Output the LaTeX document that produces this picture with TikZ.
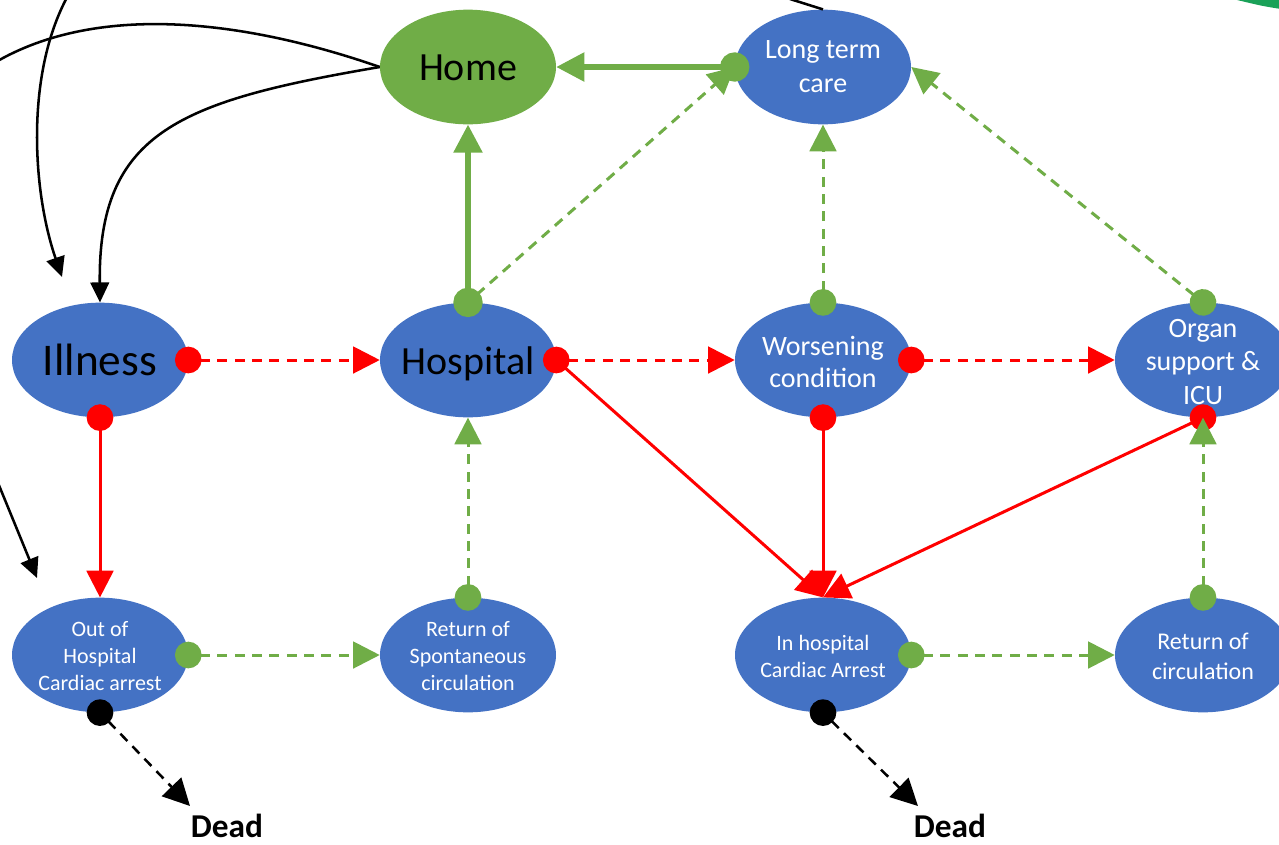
\documentclass[tikz,border=0pt]{standalone}
\usepackage{fontspec}
\setmainfont{Carlito}
\usetikzlibrary{arrows.meta,shapes.geometric}
\definecolor{oblue}{HTML}{4472C4}
\definecolor{ogreen}{HTML}{70AD47}
\definecolor{ored}{HTML}{FF0000}
\definecolor{dgreen}{HTML}{1AA158}
\begin{document}
\begin{tikzpicture}[x=0.75pt,y=-0.75pt,
  ell/.style={ellipse, minimum width=132pt, minimum height=86pt, inner sep=0pt, fill=oblue},
  lbl/.style={align=center, text=white, inner sep=0pt},
  blbl/.style={text=black, inner sep=0pt, anchor=base},
  dsh/.style={line width=2.25pt, dash pattern=on 7.5pt off 5.5pt},
  dotarr/.style={arrows={Circle[length=20pt]-Triangle[length=20pt,width=20pt]}, shorten <=-10pt},
  gdash/.style={dsh, ogreen, dotarr},
  rdash/.style={dsh, ored, dotarr},
  kdash/.style={dsh, black, line width=1.9pt, dotarr},
  rsolid/.style={ored, line width=2.25pt, dotarr},
  rsolidnc/.style={ored, line width=2.25pt, -{Triangle[length=20pt,width=20pt]}},
  gsolid/.style={ogreen, line width=4pt, arrows={Circle[length=22pt]-Triangle[length=21pt,width=21pt]}, shorten <=-11pt},
  kcurve/.style={black, line width=1.9pt},
  karr/.style={-{Triangle[length=15pt,width=14pt]}}
]
\useasboundingbox (0,0) rectangle (1279,844);
\clip (0,0) rectangle (1279,844);

% nodes
\node[ell,fill=ogreen] (home) at (468,67) {};
\node[ell] (ltc) at (823,67) {};
\node[ell] (ill) at (100,360) {};
\node[ell] (hosp) at (468,360) {};
\node[ell] (wors) at (823,360) {};
\node[ell] (organ) at (1203,360) {};
\node[ell] (ohca) at (100,655) {};
\node[ell] (rosc) at (468,655) {};
\node[ell] (ihca) at (823,655) {};
\node[ell] (roc) at (1203,655) {};

% texts
\node[blbl,font=\fontsize{30}{36}\selectfont] (homet) at (468,80) {Home};
\node[blbl,font=\fontsize{34}{40}\selectfont] (illt) at (100,375) {Illness};
\node[blbl,font=\fontsize{30}{36}\selectfont] (hospt) at (468,374) {Hospital};
\node[lbl,font=\fontsize{21}{25.5}\selectfont] (ltct) at (ltc) {Long term\\care};
\node[lbl,font=\fontsize{21}{24}\selectfont] (worst) at (823,362) {Worsening\\condition};
\node[lbl,font=\fontsize{21}{25}\selectfont] (organt) at (1203,362) {Organ\\support \&\\ICU};
\node[lbl,font=\fontsize{16.5}{20.25}\selectfont] (ohcat) at (100,656) {Out of\\Hospital\\Cardiac arrest};
\node[lbl,font=\fontsize{16.5}{20.25}\selectfont] (rosct) at (468,656) {Return of\\Spontaneous\\circulation};
\node[lbl,font=\fontsize{16.5}{20.25}\selectfont] (ihcat) at (823,656) {In hospital\\Cardiac Arrest};
\node[lbl,font=\fontsize{18}{22.5}\selectfont] (roct) at (1203,656) {Return of\\circulation};
\node[blbl,font=\fontsize{25}{30}\selectfont\bfseries] (dead1) at (227,837) {Dead};
\node[blbl,font=\fontsize{25}{30}\selectfont\bfseries] (dead2) at (950,837) {Dead};

% free ends
\coordinate (c1) at (-20,72);
\coordinate (c3s) at (70,-8);
\coordinate (c3e) at (62,277);
\coordinate (c4s) at (-4,478);
\coordinate (c4e) at (37,578);
\coordinate (c5) at (790,-1);
\coordinate (d1) at (190,806);
\coordinate (d2) at (918,806);

% black curves
\draw[kcurve] (home.west) .. controls (230,15) and (80,3) .. (c1);
\draw[kcurve,karr] (home.west) .. controls (180,101) and (98,132) .. (ill.north);
\draw[kcurve,karr] (c3s) .. controls (25,70) and (32,190) .. (c3e);
\draw[kcurve,karr] (c4s) -- (c4e);
\draw[kcurve] (c5) -- (ltc.north);

% green dashed to long term care
\draw[gdash] (hosp.north) -- (ltc.west);
\draw[gdash] (wors.north) -- (ltc.south);
\draw[gdash] (organ.north) -- (ltc.east);

% green solid to home
\draw[gsolid] (ltc.west) -- (home.east);
\draw[gsolid] (hosp.north) -- (home.south);

% red dashed
\draw[rdash] (ill.east) -- (hosp.west);
\draw[rdash] (hosp.east) -- (wors.west);
\draw[rdash] (wors.east) -- (organ.west);

% red solid
\draw[rsolid] (ill.south) -- (ohca.north);
\draw[rsolidnc] (hosp.east) -- (ihca.north);
\draw[rsolid] (wors.south) -- (ihca.north);
\draw[rsolid] (organ.south) -- (ihca.north);

% green dashed bottom
\draw[gdash] (ohca.east) -- (rosc.west);
\draw[gdash] (rosc.north) -- (hosp.south);
\draw[gdash] (ihca.east) -- (roc.west);
\draw[gdash] (roc.north) -- (organ.south);

% black dashed to dead
\draw[kdash] (ohca.south) -- (d1);
\draw[kdash] (ihca.south) -- (d2);

% green fragment top right
\fill[dgreen] (1233,-1) -- (1281,-1) -- (1281,9) .. controls (1262,6) .. cycle;
\end{tikzpicture}
\end{document}
